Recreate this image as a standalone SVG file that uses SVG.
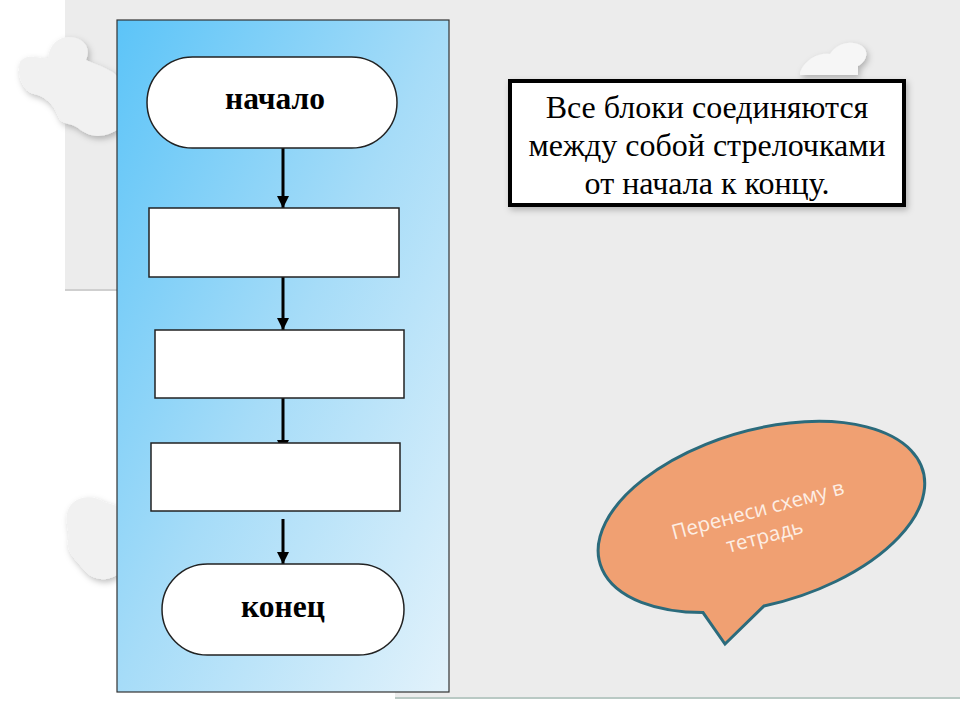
<svg xmlns="http://www.w3.org/2000/svg" width="960" height="720" viewBox="0 0 960 720">
<defs>
<linearGradient id="blueg" x1="0" y1="0" x2="1" y2="1">
<stop offset="0" stop-color="#5cc4f8"/>
<stop offset="0.5" stop-color="#a6dcf8"/>
<stop offset="1" stop-color="#e2f2fb"/>
</linearGradient>
<marker id="ah" viewBox="0 0 10 10" refX="10" refY="5" markerWidth="4" markerHeight="4" orient="auto" markerUnits="strokeWidth">
<path d="M0,0 L10,5 L0,10 Z" fill="#000"/>
</marker>
<filter id="sh" x="-10%" y="-10%" width="130%" height="130%">
<feDropShadow dx="2" dy="3" stdDeviation="3" flood-color="#000" flood-opacity="0.25"/>
</filter>
</defs>
<style>
.blk{fill:#fff;stroke:#222;stroke-width:1.5}
.lbl{font-family:"Liberation Serif","Times New Roman",serif;font-weight:bold;font-size:31.5px;fill:#000;text-anchor:middle}
.note{font-family:"Liberation Serif","Times New Roman",serif;font-size:32px;fill:#000;text-anchor:middle}
.arr{stroke:#000;stroke-width:3;fill:none;marker-end:url(#ah)}
.bub{font-family:"Open Sans","Noto Sans",sans-serif;font-size:20.5px;fill:#fdeee4;text-anchor:middle}
</style>
<rect width="960" height="720" fill="#ffffff"/>
<g id="background">
<path d="M65,0 H960 V697 H395 V692 H117 V290 H65 Z" fill="#ececec"/>
<line x1="65" y1="290" x2="117" y2="290" stroke="#cfcfcf" stroke-width="2"/>
<line x1="395" y1="698" x2="960" y2="698" stroke="#b9c9c4" stroke-width="2"/>
<path d="M20,62 C28,52 40,60 48,58 C50,42 62,34 76,38 C88,42 90,52 86,60 C100,66 112,70 117,76 L117,130 C100,140 88,136 78,128 C70,122 62,126 58,116 C54,104 44,96 34,94 C24,92 16,76 20,62 Z" fill="#f1f1f1" filter="url(#sh)"/>
<path d="M68,510 C74,496 92,494 104,502 L117,506 L117,575 C106,582 92,580 84,570 C76,560 66,552 68,540 C70,530 64,522 68,510 Z" fill="#f1f1f1" filter="url(#sh)"/>
<path d="M800,72 C806,58 820,52 830,54 C838,42 852,40 862,46 C870,52 866,62 858,66 L858,75 L800,75 Z" fill="#f6f6f6" filter="url(#sh)"/>
</g>
<g id="panel">
<rect x="117" y="20" width="332" height="672" fill="url(#blueg)" stroke="#333" stroke-width="1.2"/>
</g>
<g id="connectors">
<line class="arr" x1="283" y1="148" x2="283" y2="208"/>
<line class="arr" x1="283" y1="277" x2="283" y2="330"/>
<line class="arr" x1="283" y1="398" x2="283" y2="452"/>
<line class="arr" x1="283" y1="519" x2="283" y2="564"/>
</g>
<g id="start">
<rect class="blk" x="147" y="57" width="250" height="91" rx="45.5"/>
<text class="lbl" x="275" y="109">начало</text>
</g>
<g id="block1">
<rect class="blk" x="149" y="208" width="250" height="69"/>
</g>
<g id="block2">
<rect class="blk" x="155" y="330" width="249" height="68"/>
</g>
<g id="block3">
<rect class="blk" x="151" y="443" width="249" height="68"/>
</g>
<g id="end">
<rect class="blk" x="162" y="564" width="242" height="91" rx="45.5"/>
<text class="lbl" x="283" y="617">конец</text>
</g>
<g id="note">
<rect x="510" y="81" width="394" height="124" fill="#fff" stroke="#000" stroke-width="4" filter="url(#sh)"/>
<text class="note" x="707" y="118">Все блоки соединяются</text>
<text class="note" x="707" y="156">между собой стрелочками</text>
<text class="note" x="707" y="194">от начала к концу.</text>
</g>
<g id="bubble">
<path d="M764,606 A168 87 -16 1 0 703,612.6 L725,644 Z" fill="#f0a072" stroke="#2b6b7c" stroke-width="3" stroke-linejoin="miter"/>
<g transform="rotate(-15 763 522)">
<text class="bub" x="761" y="516">Перенеси схему в</text>
<text class="bub" x="761" y="543">тетрадь</text>
</g>
</g>
</svg>
